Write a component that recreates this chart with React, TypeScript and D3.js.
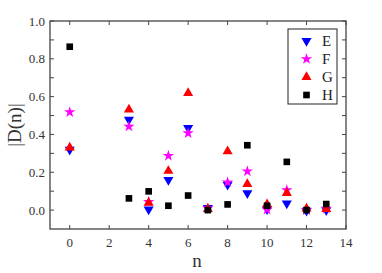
import React, { useEffect, useRef } from 'react';
import * as d3 from 'd3';

const nValues = [0, 3, 4, 5, 6, 7, 8, 9, 10, 11, 12, 13];
const seriesE = [0.32, 0.478, 0.003, 0.159, 0.435, 0.012, 0.134, 0.09, 0.005, 0.035, -0.003, 0.0];
const seriesF = [0.518, 0.442, 0.044, 0.287, 0.407, 0.01, 0.147, 0.205, 0.002, 0.106, 0.0, 0.008];
const seriesG = [0.33, 0.531, 0.039, 0.207, 0.619, 0.005, 0.311, 0.138, 0.03, 0.09, 0.008, 0.005];
const seriesH = [0.864, 0.062, 0.099, 0.023, 0.077, 0.0, 0.03, 0.343, 0.023, 0.255, 0.0, 0.032];
const seriesNames = ['E', 'F', 'G', 'H'];
const xTicks = [0, 2, 4, 6, 8, 10, 12, 14];
const yTicks = [0, 0.2, 0.4, 0.6, 0.8, 1.0];

function App() {
  const svgRef = useRef<SVGSVGElement>(null);

  useEffect(() => {
    const width = 382;
    const height = 273;
    const margin = { top: 21, right: 36, bottom: 44, left: 50 };

    const svg = d3.select(svgRef.current).attr('width', width).attr('height', height);
    svg.selectAll('*').remove();
    svg.style('font-family', "'Liberation Serif', 'Times New Roman', Times, serif");

    const x = d3.scaleLinear().domain([-1, 14]).range([margin.left, width - margin.right]);
    const y = d3.scaleLinear().domain([-0.1, 1.0]).range([height - margin.bottom, margin.top]);

    const axisColor = '#444';

    const styles = [
      { name: 'E', data: seriesE, color: '#0000ff', type: d3.symbolTriangle, size: 44, rotate: 180 },
      { name: 'F', data: seriesF, color: '#ff00ff', type: d3.symbolStar, size: 40, rotate: 0 },
      { name: 'G', data: seriesG, color: '#ff0000', type: d3.symbolTriangle, size: 44, rotate: 0 },
      { name: 'H', data: seriesH, color: '#000000', type: d3.symbolSquare, size: 44, rotate: 0 },
    ];

    // frame
    const [x0, x1] = x.range();
    const [y0, y1] = y.range();
    svg
      .append('rect')
      .attr('x', x0)
      .attr('y', y1)
      .attr('width', x1 - x0)
      .attr('height', y0 - y1)
      .attr('fill', 'none')
      .attr('stroke', axisColor)
      .attr('stroke-width', 1.3);

    // y ticks every 0.1, inward on both sides
    const yMinor = d3.range(0, 11).map((i) => i / 10);
    yMinor.forEach((v) => {
      svg.append('line').attr('x1', x0).attr('x2', x0 + 4).attr('y1', y(v)).attr('y2', y(v)).attr('stroke', axisColor);
      svg.append('line').attr('x1', x1).attr('x2', x1 - 4).attr('y1', y(v)).attr('y2', y(v)).attr('stroke', axisColor);
    });
    xTicks.forEach((v) => {
      svg.append('line').attr('x1', x(v)).attr('x2', x(v)).attr('y1', y0).attr('y2', y0 - 4).attr('stroke', axisColor);
      svg.append('line').attr('x1', x(v)).attr('x2', x(v)).attr('y1', y1).attr('y2', y1 + 4).attr('stroke', axisColor);
    });

    svg
      .selectAll('.ylab')
      .data(yTicks)
      .enter()
      .append('text')
      .attr('x', x0 - 5)
      .attr('y', (d) => y(d) + 4.5)
      .attr('text-anchor', 'end')
      .style('font-size', '13px')
      .attr('fill', '#333')
      .text((d) => d.toFixed(1));

    svg
      .selectAll('.xlab')
      .data(xTicks)
      .enter()
      .append('text')
      .attr('x', (d) => x(d))
      .attr('y', y0 + 18)
      .attr('text-anchor', 'middle')
      .style('font-size', '13px')
      .attr('fill', '#333')
      .text((d) => d);

    svg
      .append('text')
      .attr('x', 197)
      .attr('y', 267)
      .attr('text-anchor', 'middle')
      .style('font-size', '19px')
      .attr('fill', '#333')
      .text('n');

    svg
      .append('text')
      .attr('transform', `translate(21,${(y0 + y1) / 2}) rotate(-90)`)
      .attr('text-anchor', 'middle')
      .style('font-size', '19px')
      .attr('fill', '#333')
      .text('|D(n)|');

    // points
    styles.forEach((s) => {
      const sym = d3.symbol().type(s.type).size(s.size);
      svg
        .append('g')
        .selectAll('path')
        .data(s.data)
        .enter()
        .append('path')
        .attr('d', sym)
        .attr('fill', s.color)
        .attr('transform', (d, i) => `translate(${x(nValues[i])},${y(d)}) rotate(${s.rotate})`);
    });

    // legend
    const lg = svg.append('g');
    lg.append('rect')
      .attr('x', 288)
      .attr('y', 29)
      .attr('width', 49)
      .attr('height', 75)
      .attr('fill', 'white')
      .attr('stroke', '#222')
      .attr('stroke-width', 1);
    styles.forEach((s, i) => {
      const cy = 41 + i * 18;
      lg.append('path')
        .attr('d', d3.symbol().type(s.type).size(s.size)())
        .attr('fill', s.color)
        .attr('transform', `translate(306.5,${cy}) rotate(${s.rotate})`);
      lg.append('text')
        .attr('x', 322)
        .attr('y', cy + 5)
        .style('font-size', '15px')
        .attr('fill', '#222')
        .text(seriesNames[i]);
    });
  }, []);

  return (
    <div style={{ position: 'absolute', left: 0, top: 0 }}>
      <svg ref={svgRef}></svg>
    </div>
  );
}

export default App;
